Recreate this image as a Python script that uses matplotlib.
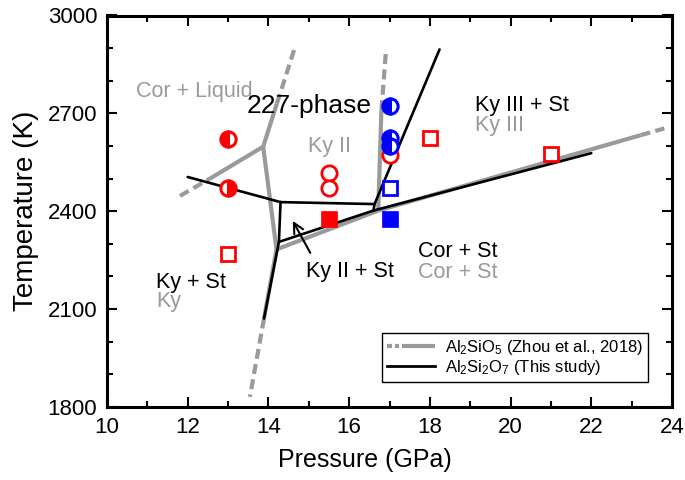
import numpy as np
import matplotlib.pyplot as plt
from matplotlib.lines import Line2D

plt.rcParams['font.family'] = ['Liberation Sans', 'DejaVu Sans']
plt.rcParams['mathtext.fontset'] = 'custom'
plt.rcParams['mathtext.rm'] = 'Liberation Sans'
plt.rcParams['mathtext.it'] = 'Liberation Sans:italic'

# Al2SiO5 boundaries (Zhou et al., 2018): solid parts and dashed extrapolations, (P GPa, T K)
gray_solid = [
    ([12.55, 13.87], [2500, 2598]),   # Cor+Liquid / Ky
    ([13.87, 14.21], [2598, 2730]),   # Cor+Liquid / Ky II
    ([13.87, 14.20], [2598, 2283]),   # Ky / Ky II
    ([14.20, 13.89], [2283, 2071]),   # Ky / Cor+St
    ([14.20, 16.72], [2283, 2402]),   # Ky II / Cor+St
    ([16.72, 16.80], [2402, 2710]),   # Ky II / Ky III
    ([16.72, 23.22], [2402, 2633]),   # Ky III / Cor+St
]
gray_dashed = [
    ([11.81, 12.55], [2447, 2500]),
    ([14.21, 14.65], [2730, 2900]),
    ([13.89, 13.54], [2071, 1831]),
    ([16.80, 16.91], [2710, 2889]),
    ([23.22, 23.81], [2633, 2654]),
]

# Al2Si2O7 boundaries (this study)
black_lines = [
    ([12.00, 14.30], [2505, 2428]),
    ([14.30, 16.63], [2428, 2422]),
    ([14.30, 14.26], [2428, 2306]),
    ([14.26, 13.89], [2306, 2071]),
    ([14.26, 16.60], [2306, 2402]),
    ([16.60, 22.00], [2402, 2578]),
    ([16.63, 16.60], [2422, 2402]),
    ([16.63, 18.24], [2422, 2896]),
]

# experimental runs
red_half_left = ([13.0], [2620])
red_half_right = ([13.0], [2472])
red_open_circ = ([15.5, 15.5, 17.0], [2518, 2470, 2572])
red_open_sq = ([13.0, 18.0, 21.0], [2270, 2625, 2575])
red_fill_sq = ([15.5], [2375])
blue_half = ([17.0, 17.0, 17.0], [2722, 2625, 2600])
blue_open_sq = ([17.0], [2472])
blue_fill_sq = ([17.0], [2375])

GRAY = '#9a9a9a'
fig = plt.figure(figsize=(6.85, 4.8), dpi=100)
ax = fig.add_axes([107 / 685, 73 / 480, 565 / 685, 391.5 / 480])

for p, t in gray_solid:
    ax.plot(p, t, color=GRAY, lw=3, solid_capstyle='butt', zorder=2)
for p, t in gray_dashed:
    ax.plot(p, t, color=GRAY, lw=3, dashes=(2.4, 1.3), dash_capstyle='butt', zorder=2)
for p, t in black_lines:
    ax.plot(p, t, color='black', lw=1.9, solid_capstyle='round', zorder=3)

ms = 11
ax.plot(*red_open_circ, 'o', ms=ms, mfc='white', mec='red', mew=2, ls='none', zorder=4)
ax.plot(*red_half_left, 'o', ms=ms, fillstyle='left', mfc='red', mfcalt='white',
        mec='red', mew=2.2, ls='none', zorder=4)
ax.plot(*red_half_right, 'o', ms=ms, fillstyle='right', mfc='red', mfcalt='white',
        mec='red', mew=2.2, ls='none', zorder=4)
ax.plot(*red_open_sq, 's', ms=10, mfc='white', mec='red', mew=2, ls='none', zorder=4)
ax.plot(*red_fill_sq, 's', ms=11, mfc='red', mec='red', mew=0.5, ls='none', zorder=4)
ax.plot(*blue_half, 'o', ms=ms, fillstyle='left', mfc='blue', mfcalt='white',
        mec='blue', mew=2.2, ls='none', zorder=5)
ax.plot(*blue_open_sq, 's', ms=10, mfc='white', mec='blue', mew=2, ls='none', zorder=5)
ax.plot(*blue_fill_sq, 's', ms=11, mfc='blue', mec='blue', mew=0.5, ls='none', zorder=5)

fs = 15.5
ax.text(10.72, 2751, 'Cor + Liquid', color=GRAY, fontsize=fs)
ax.text(13.46, 2701, '227-phase', color='black', fontsize=19)
ax.text(14.98, 2582, 'Ky II', color=GRAY, fontsize=fs)
ax.text(19.11, 2708, 'Ky III + St', color='black', fontsize=fs)
ax.text(19.11, 2645, 'Ky III', color=GRAY, fontsize=fs)
ax.text(17.71, 2260, 'Cor + St', color='black', fontsize=fs)
ax.text(17.71, 2196, 'Cor + St', color=GRAY, fontsize=fs)
ax.text(11.21, 2166, 'Ky + St', color='black', fontsize=fs)
ax.text(11.21, 2107, 'Ky', color=GRAY, fontsize=fs)
ax.text(14.93, 2197, 'Ky II + St', color='black', fontsize=fs)
ax.annotate('', xy=(14.57, 2378), xytext=(15.07, 2265),
            arrowprops=dict(arrowstyle='->', color='black', lw=1.5, mutation_scale=18))

ax.set_xlim(10, 24)
ax.set_ylim(1800, 3000)
ax.set_xticks(np.arange(10, 25, 2))
ax.set_xticks(np.arange(10, 25, 1), minor=True)
ax.set_yticks(np.arange(1800, 3001, 300))
ax.set_yticks(np.arange(1800, 3001, 100), minor=True)
ax.tick_params(which='both', direction='in', top=True, right=True, width=1.5)
ax.tick_params(which='major', length=7, labelsize=16, pad=7)
ax.tick_params(which='minor', length=4)
for s in ax.spines.values():
    s.set_linewidth(2.2)

ax.set_xlabel('Pressure (GPa)', fontsize=18, labelpad=4)
ax.xaxis.set_label_coords(0.457, -0.105)
ax.set_ylabel('Temperature (K)', fontsize=20, labelpad=6)

h_gray = Line2D([], [], color=GRAY, lw=3, dashes=(1.2, 0.7, 1.0, 0.7, 8, 0.7))
h_black = Line2D([], [], color='black', lw=2)
leg = ax.legend([h_gray, h_black],
                [r'Al$_2$SiO$_5$ (Zhou et al., 2018)', r'Al$_2$Si$_2$O$_7$ (This study)'],
                loc='lower right', bbox_to_anchor=(0.9575, 0.064), fontsize=12,
                frameon=True, fancybox=False, edgecolor='black', framealpha=1,
                handlelength=2.9, handletextpad=0.6, borderaxespad=0,
                labelspacing=0.05, borderpad=0.3)
leg.get_frame().set_linewidth(1)

fig.savefig('out.png', dpi=100)
